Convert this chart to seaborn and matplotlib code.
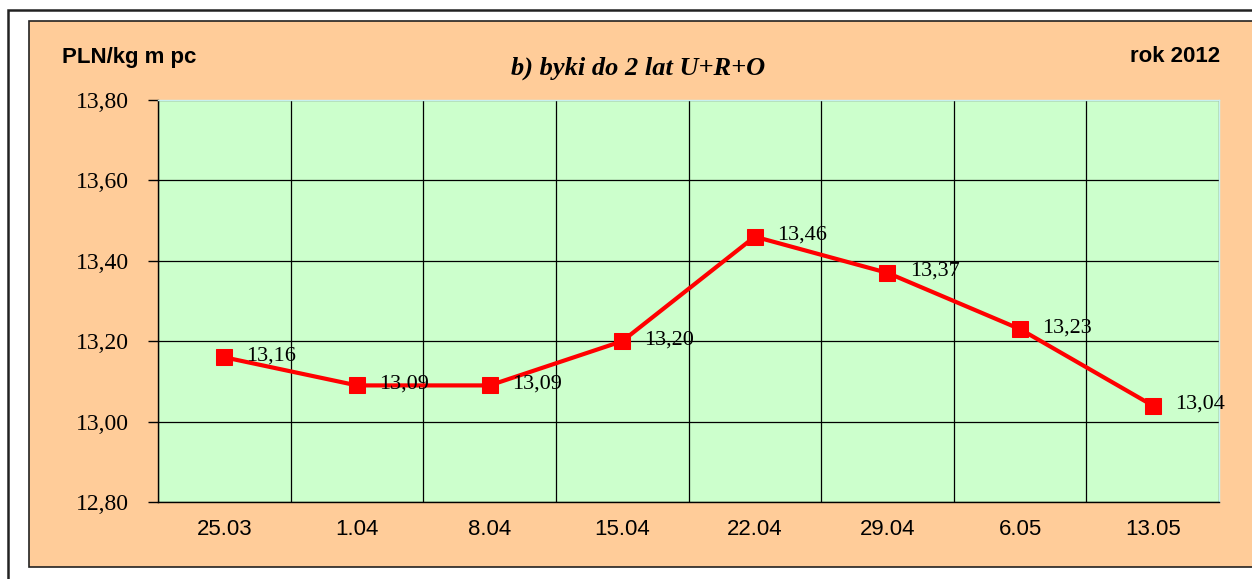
import matplotlib
matplotlib.use("Agg")
import matplotlib.pyplot as plt
import matplotlib.patches as mpatches
import seaborn as sns
import pandas as pd

dates = ["25.03", "1.04", "8.04", "15.04", "22.04", "29.04", "6.05", "13.05"]
prices = [13.16, 13.09, 13.09, 13.20, 13.46, 13.37, 13.23, 13.04]
y_ticks = [12.80, 13.00, 13.20, 13.40, 13.60, 13.80]

df = pd.DataFrame({"date": dates, "price": prices})

sns.set_style("white")
plt.rcParams['font.family'] = ['Liberation Sans', 'DejaVu Sans']
plt.rcParams['text.color'] = 'black'
plt.rcParams['xtick.color'] = 'black'
plt.rcParams['ytick.color'] = 'black'

fig = plt.figure(figsize=(12.52, 5.79), dpi=100)
fig.patch.set_facecolor("white")

# outer frame + peach chart area (behind the axes)
fig.patches.append(mpatches.Rectangle((8 / 1252, -0.01), 1.0, 1 - 10 / 579 + 0.01,
                                      transform=fig.transFigure, fill=False,
                                      edgecolor="#222222", linewidth=1.8, zorder=-2))
fig.patches.append(mpatches.Rectangle((29 / 1252, 12 / 579), 1.0, (567 - 21) / 579,
                                      transform=fig.transFigure, facecolor="#FFCC99",
                                      edgecolor="#222222", linewidth=1.2, zorder=-1))

ax = fig.add_axes([158 / 1252, 77 / 579, (1219 - 158) / 1252, (502 - 100) / 579])
ax.set_facecolor("#CCFFCC")

sns.lineplot(data=df, x="date", y="price", ax=ax, color="#FF0000", linewidth=3,
             marker="s", markersize=11, markeredgecolor="#FF0000", zorder=5)

for i, v in enumerate(prices):
    ax.annotate(f"{v:.2f}".replace(".", ","), (i, v), xytext=(16, 1),
                textcoords="offset points", va="center", ha="left",
                fontsize=16, family="Liberation Serif", color="black", zorder=6)

ax.set_xlim(-0.5, len(dates) - 0.5)
ax.set_ylim(12.80, 13.80)
ax.set_yticks(y_ticks)
ax.set_yticklabels([f"{t:.2f}".replace(".", ",") for t in y_ticks],
                   family="Liberation Serif", fontsize=17)
ax.set_xticks(range(len(dates)))
ax.set_xticklabels(dates, fontsize=16)
ax.set_xticks([k - 0.5 for k in range(len(dates) + 1)], minor=True)
ax.tick_params(axis="x", which="major", length=0, pad=12)
ax.tick_params(axis="x", which="minor", length=7, width=1, color="black", direction="out")
ax.tick_params(axis="y", length=7, width=1, color="black", direction="out", pad=14, left=True)

ax.grid(False)
ax.grid(True, axis="y", which="major", color="black", linewidth=0.9)
ax.grid(True, axis="x", which="minor", color="black", linewidth=0.9)
for s in ["top", "right"]:
    ax.spines[s].set_color("#C8F0F0")
    ax.spines[s].set_linewidth(1)
for s in ["left", "bottom"]:
    ax.spines[s].set_color("black")
    ax.spines[s].set_linewidth(1)
ax.set_xlabel("")
ax.set_ylabel("")

fig.text(62 / 1252, 1 - 57 / 579, "PLN/kg m pc", fontsize=16, fontweight="bold", va="center", ha="left")
fig.text(1220 / 1252, 1 - 57 / 579, "rok 2012", fontsize=16, fontweight="bold", va="center", ha="right")
fig.text(638 / 1252, 1 - 68 / 579, "b) byki do 2 lat U+R+O", fontsize=19, fontweight="bold",
         fontstyle="italic", family="Liberation Serif", va="center", ha="center")

fig.savefig("out.png", dpi=100)
